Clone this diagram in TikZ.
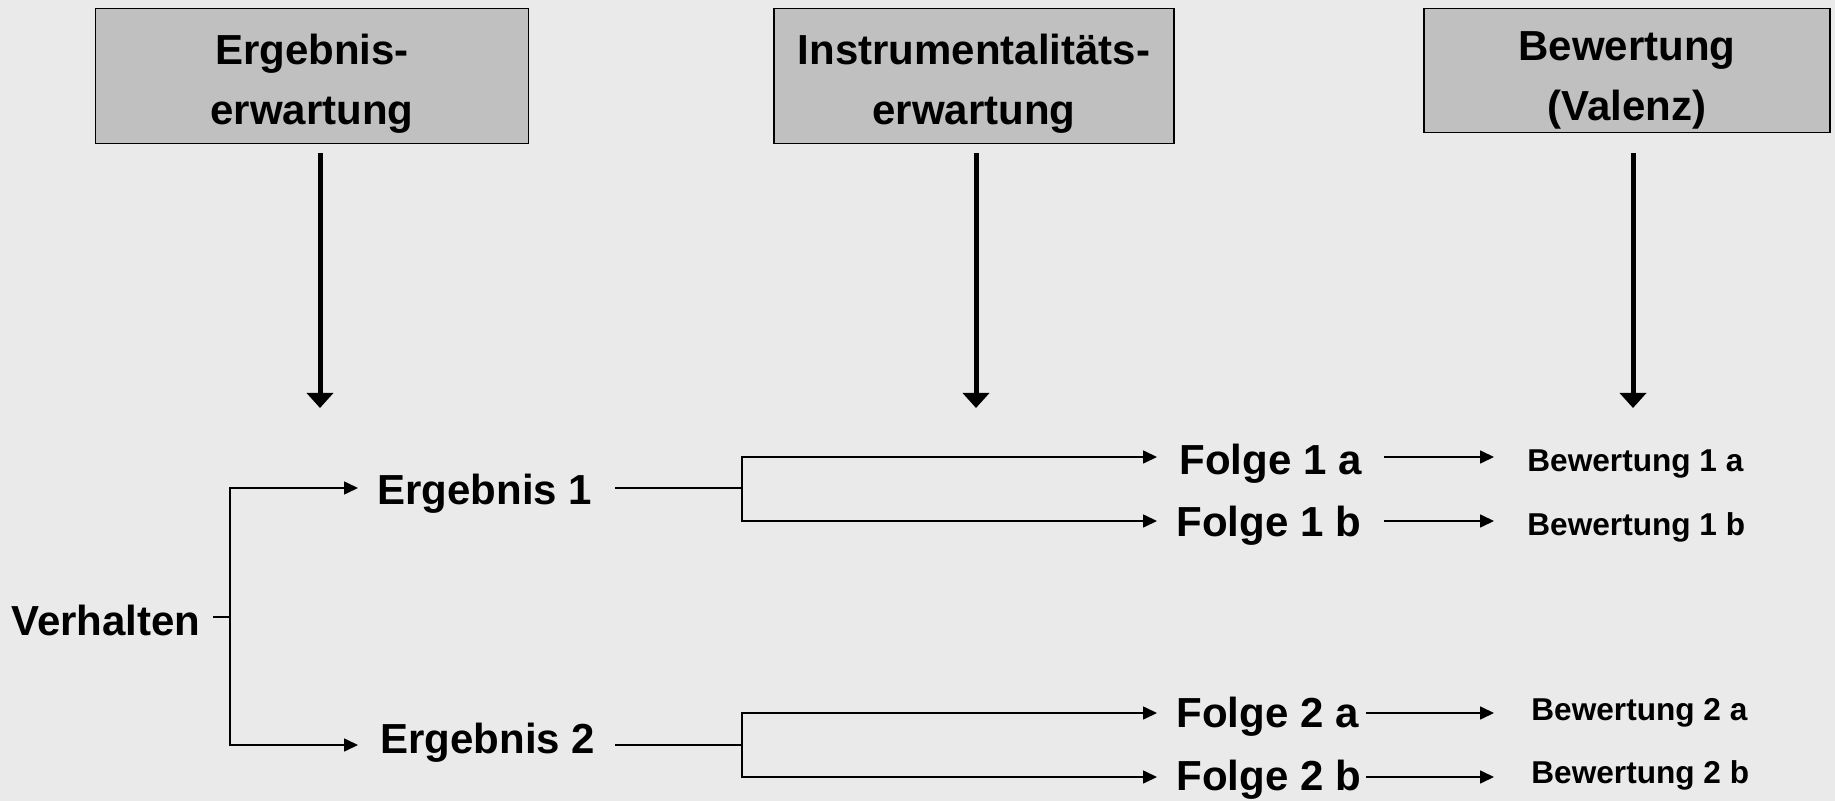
\documentclass[tikz,border=0pt]{standalone}
\usepackage{fontspec}
\setmainfont{Liberation Sans}
\usetikzlibrary{arrows.meta}
\definecolor{bgcol}{HTML}{EAEAEA}
\definecolor{boxcol}{HTML}{C0C0C0}
\begin{document}
\begin{tikzpicture}[x=0.5pt,y=-0.5pt,
  hbox/.style={draw=black, line width=0.8pt, fill=boxcol, inner sep=0pt},
  htext/.style={font=\bfseries\fontsize{21}{30}\selectfont, align=center, inner sep=0pt},
  btext/.style={font=\bfseries\fontsize{21}{25}\selectfont, inner sep=0pt, anchor=base west},
  stext/.style={font=\bfseries\fontsize{15.8}{19}\selectfont, inner sep=0pt, anchor=base west},
  bigarr/.style={line width=2.5pt, -{Triangle[length=7.5pt,width=13pt]}},
  sarr/.style={line width=0.8pt, -{Triangle[length=7pt,width=6.5pt]}},
  sline/.style={line width=0.8pt}]
\fill[bgcol] (0,0) rectangle (1835,801);
\useasboundingbox (0,0) rectangle (1835,801);

% header boxes
\node[hbox, minimum width=216.5pt, minimum height=67.5pt] (H1) at (312,76) {};
\node[htext] (T1) at (312,84) {Ergebnis-\\erwartung};
\node[hbox, minimum width=200pt, minimum height=67.5pt] (H2) at (974,76) {};
\node[htext] (T2) at (974,84) {Instrumentalitäts-\\erwartung};
\node[hbox, minimum width=203pt, minimum height=62pt] (H3) at (1627,70.5) {};
\node[htext] (T3) at (1627,80) {Bewertung\\(Valenz)};

% big arrows
\coordinate (a1s) at (320,153); \coordinate (a1e) at (320,408);
\coordinate (a2s) at (976,153); \coordinate (a2e) at (976,408);
\coordinate (a3s) at (1633,153); \coordinate (a3e) at (1633,408);
\draw[bigarr] (a1s) -- (a1e);
\draw[bigarr] (a2s) -- (a2e);
\draw[bigarr] (a3s) -- (a3e);

% text nodes
\node[btext] (V) at (11,635) {Verhalten};
\node[btext] (E1) at (377,505) {Ergebnis 1};
\node[btext] (E2) at (380,753) {Ergebnis 2};
\node[btext] (F1a) at (1179,475) {Folge 1 a};
\node[btext] (F1b) at (1176,537) {Folge 1 b};
\node[btext] (F2a) at (1176,727) {Folge 2 a};
\node[btext] (F2b) at (1176,790) {Folge 2 b};
\node[stext] (B1a) at (1527,472) {Bewertung 1 a};
\node[stext] (B1b) at (1527,535) {Bewertung 1 b};
\node[stext] (B2a) at (1531,720) {Bewertung 2 a};
\node[stext] (B2b) at (1531,783) {Bewertung 2 b};

% Verhalten tree
\coordinate (vt) at (213,617); \coordinate (vj) at (230,617);
\coordinate (e1in) at (358,488); \coordinate (e2in) at (358,745);
\draw[sline] (vt) -- (vj);
\draw[sarr] (vj) |- (e1in);
\draw[sarr] (vj) |- (e2in);

% Ergebnis 1 branch
\coordinate (e1out) at (615,488); \coordinate (e1j) at (742,488);
\coordinate (f1ain) at (1157,457); \coordinate (f1bin) at (1157,521);
\draw[sline] (e1out) -- (e1j);
\draw[sarr] (e1j) |- (f1ain);
\draw[sarr] (e1j) |- (f1bin);

% Ergebnis 2 branch
\coordinate (e2out) at (615,745); \coordinate (e2j) at (742,745);
\coordinate (f2ain) at (1157,713); \coordinate (f2bin) at (1157,777);
\draw[sline] (e2out) -- (e2j);
\draw[sarr] (e2j) |- (f2ain);
\draw[sarr] (e2j) |- (f2bin);

% Folge -> Bewertung
\coordinate (f1aout) at (1384,457); \coordinate (b1ain) at (1494,457);
\coordinate (f1bout) at (1384,521); \coordinate (b1bin) at (1494,521);
\coordinate (f2aout) at (1366,713); \coordinate (b2ain) at (1494,713);
\coordinate (f2bout) at (1366,777); \coordinate (b2bin) at (1494,777);
\draw[sarr] (f1aout) -- (b1ain);
\draw[sarr] (f1bout) -- (b1bin);
\draw[sarr] (f2aout) -- (b2ain);
\draw[sarr] (f2bout) -- (b2bin);
\end{tikzpicture}
\end{document}
